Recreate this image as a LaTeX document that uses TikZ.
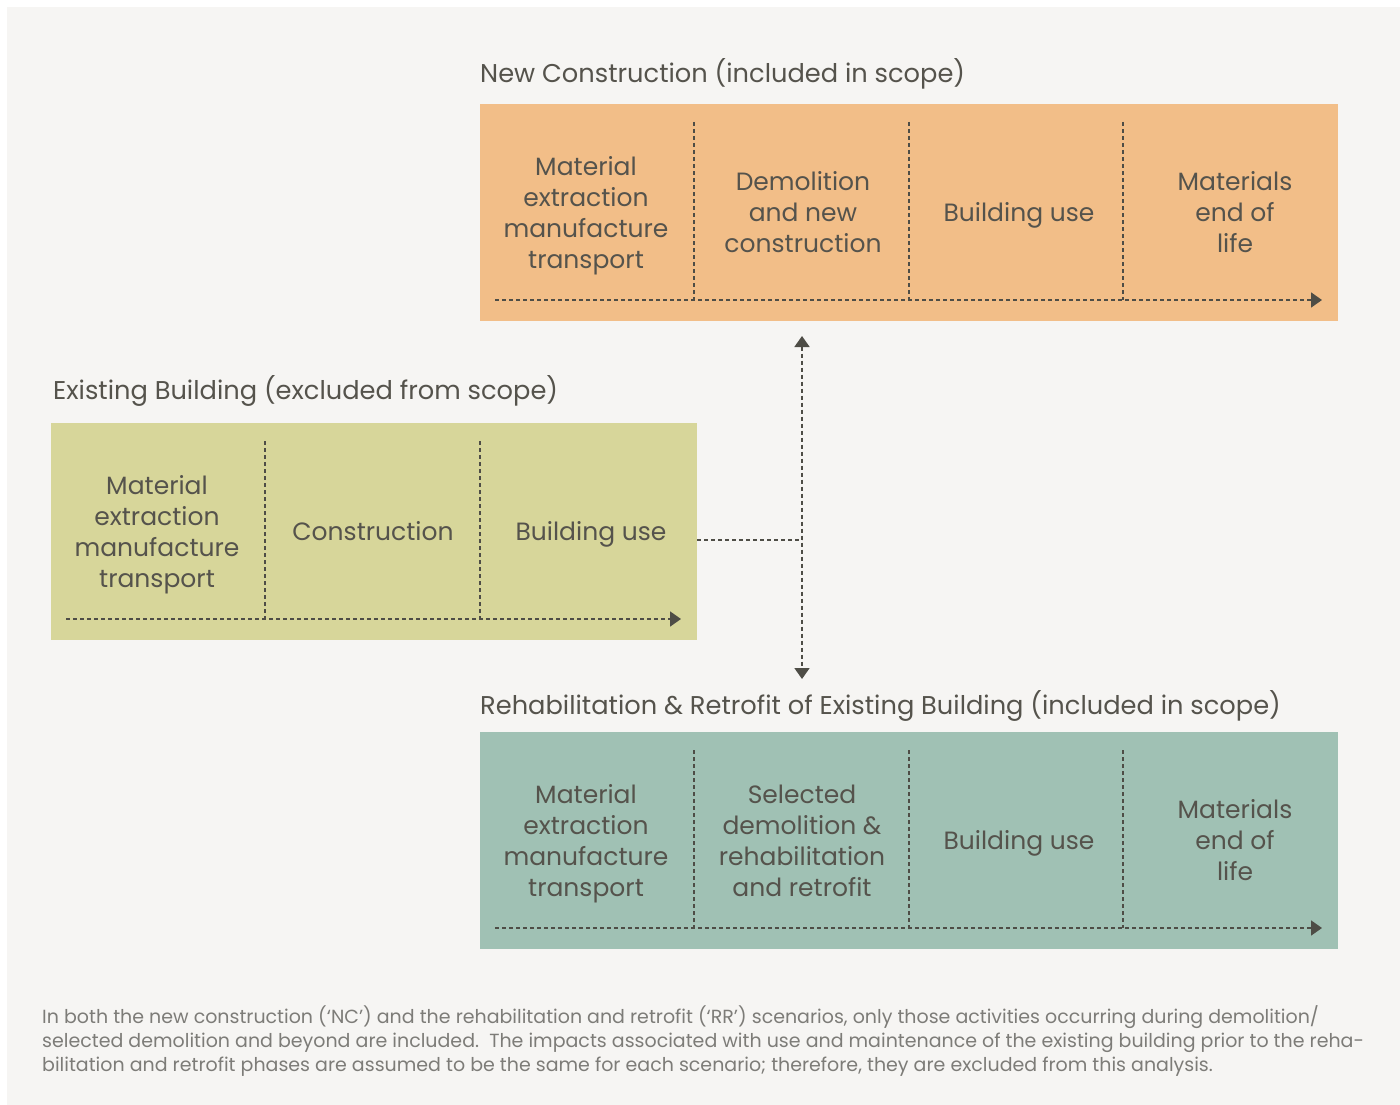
\documentclass[tikz,border=0pt]{standalone}
\usepackage{fontspec}
\setmainfont{Poppins}
\usetikzlibrary{arrows.meta}
\definecolor{bgc}{HTML}{F6F5F3}
\definecolor{ncfill}{HTML}{F2BE88}
\definecolor{ebfill}{HTML}{D7D69A}
\definecolor{rrfill}{HTML}{A0C1B4}
\definecolor{txt}{HTML}{55534C}
\definecolor{lnc}{HTML}{4E4D46}
\definecolor{notec}{HTML}{7D7C78}
\begin{document}
\begin{tikzpicture}[x=1pt,y=-1pt,
  phasebox/.style={draw=none,inner sep=0pt,outer sep=0pt},
  celltext/.style={align=center,text=txt,inner sep=0pt,font=\fontsize{25}{31}\selectfont},
  titletext/.style={anchor=base west,text=txt,inner sep=0pt,font=\fontsize{25.7}{31}\selectfont},
  divider/.style={draw=lnc,line width=1.8pt,dash pattern=on 4pt off 3pt},
  flow/.style={divider,-{Triangle[length=11pt,width=15pt]}},
  bothflow/.style={divider,{Triangle[length=11pt,width=15pt]}-{Triangle[length=11pt,width=15pt]}}
]
\useasboundingbox (0,0) rectangle (1400,1105);
\fill[white] (0,0) rectangle (1400,1105);
\fill[bgc] (7,7) rectangle (1400,1105);

% New construction
\node[titletext] (nct) at (480,83) {New Construction (included in scope)};
\node[phasebox,fill=ncfill,minimum width=858pt,minimum height=217pt] (nc) at (909,212.5) {};
\node[celltext] (nc1) at (586,215.5) {Material\\extraction\\manufacture\\transport};
\node[celltext] (nc2) at (803,212.5) {Demolition\\and new\\construction};
\node[celltext] (nc3) at (1019,215.5) {Building use};
\node[celltext] (nc4) at (1235,212.5) {Materials\\end of\\life};
\draw[divider] (694,122) -- (694,300);
\draw[divider] (909,122) -- (909,300);
\draw[divider] (1123,122) -- (1123,300);
\coordinate (nca) at (495,300);
\coordinate (ncb) at (1322,300);
\draw[flow] (nca) -- (ncb);

% Existing building
\node[titletext] (ebt) at (53,399) {Existing Building (excluded from scope)};
\node[phasebox,fill=ebfill,minimum width=646pt,minimum height=217pt] (eb) at (374,531.5) {};
\node[celltext] (eb1) at (157,534.5) {Material\\extraction\\manufacture\\transport};
\node[celltext] (eb2) at (373,531.5) {Construction};
\node[celltext] (eb3) at (591,534.5) {Building use};
\draw[divider] (265,441) -- (265,619);
\draw[divider] (480,441) -- (480,619);
\coordinate (eba) at (66,619);
\coordinate (ebb) at (681,619);
\draw[flow] (eba) -- (ebb);

% Rehab & retrofit
\node[titletext] (rrt) at (480,714) {Rehabilitation \& Retrofit of Existing Building (included in scope)};
\node[phasebox,fill=rrfill,minimum width=858pt,minimum height=217pt] (rr) at (909,840.5) {};
\node[celltext] (rr1) at (586,843.5) {Material\\extraction\\manufacture\\transport};
\node[celltext] (rr2) at (802,840.5) {Selected\\demolition \&\\rehabilitation\\and retrofit};
\node[celltext] (rr3) at (1019,843.5) {Building use};
\node[celltext] (rr4) at (1235,840.5) {Materials\\end of\\life};
\draw[divider] (694,750) -- (694,928);
\draw[divider] (909,750) -- (909,928);
\draw[divider] (1123,750) -- (1123,928);
\coordinate (rra) at (495,928);
\coordinate (rrb) at (1322,928);
\draw[flow] (rra) -- (rrb);

% connector
\coordinate (up) at (802,336);
\coordinate (dn) at (802,679);
\coordinate (jn) at (802,540);
\draw[bothflow] (up) -- (dn);
\draw[divider] (eb.east |- jn) -- (jn);

% footnote
\node[anchor=base west,align=left,inner sep=0pt,text=notec,font=\fontsize{19}{24}\selectfont] (note) at (42,1071)
{In both the new construction (‘NC’) and the rehabilitation and retrofit (‘RR’) scenarios, only those activities occurring during demolition/\\
selected demolition and beyond are included.\ \ The impacts associated with use and maintenance of the existing building prior to the reha-\\
bilitation and retrofit phases are assumed to be the same for each scenario; therefore, they are excluded from this analysis.};
\end{tikzpicture}
\end{document}
